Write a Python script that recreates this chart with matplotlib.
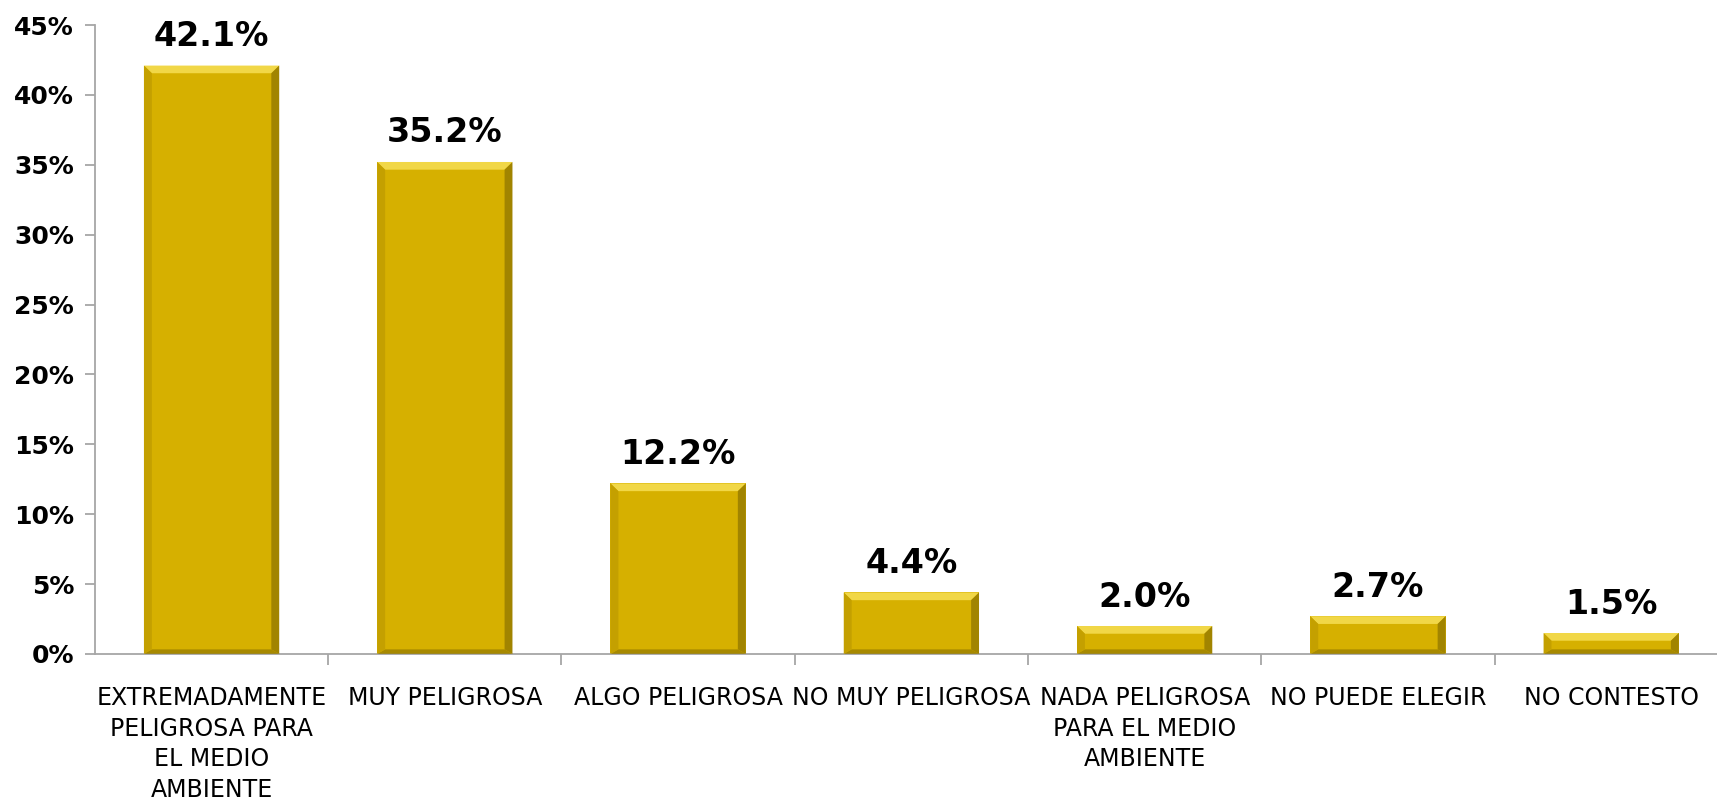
import matplotlib
matplotlib.use("Agg")
import matplotlib.pyplot as plt
from matplotlib.patches import Polygon
from matplotlib.ticker import FixedLocator, FuncFormatter

# Datos de la encuesta
categorias = [
    "EXTREMADAMENTE\nPELIGROSA PARA\nEL MEDIO\nAMBIENTE",
    "MUY PELIGROSA",
    "ALGO PELIGROSA",
    "NO MUY PELIGROSA",
    "NADA PELIGROSA\nPARA EL MEDIO\nAMBIENTE",
    "NO PUEDE ELEGIR",
    "NO CONTESTO",
]
porcentajes = [42.1, 35.2, 12.2, 4.4, 2.0, 2.7, 1.5]
y_ticks = [0, 5, 10, 15, 20, 25, 30, 35, 40, 45]

COLOR_BARRA = "#D6B000"
COLOR_CLARO = "#F3DA4C"
COLOR_OSCURO = "#9C8000"
COLOR_EJE = "#A6A6A6"
ANCHO = 0.58

fig = plt.figure(figsize=(17.17, 7.99), dpi=100)
# el eje x continua un poco mas alla del borde derecho
ax = fig.add_axes([0.0553, 0.1815, 0.951, 0.7872])

x = list(range(len(porcentajes)))
barras = ax.bar(x, porcentajes, width=ANCHO, color=COLOR_BARRA,
                edgecolor="none", zorder=2)

ax.set_xlim(-0.5, len(porcentajes) - 0.5)
ax.set_ylim(0, 45)

# Efecto de bisel en cada barra (bordes claros arriba, oscuros abajo/derecha)
bx = 0.034  # ancho del bisel en unidades de x
by = 0.55   # alto del bisel en unidades de y
for b in barras:
    x0, w, h = b.get_x(), b.get_width(), b.get_height()
    x1 = x0 + w
    byh = min(by, h / 2.5)
    caras = [
        ([(x0, h), (x1, h), (x1 - bx, h - byh), (x0 + bx, h - byh)], COLOR_CLARO, 0.95),
        ([(x0, 0), (x1, 0), (x1 - bx, byh * 0.6), (x0 + bx, byh * 0.6)], COLOR_OSCURO, 0.8),
        ([(x0, 0), (x0, h), (x0 + bx, h - byh), (x0 + bx, byh * 0.6)], "#C29F00", 0.9),
        ([(x1, 0), (x1, h), (x1 - bx, h - byh), (x1 - bx, byh * 0.6)], COLOR_OSCURO, 0.9),
    ]
    for pts, col, alpha in caras:
        ax.add_patch(Polygon(pts, closed=True, facecolor=col, edgecolor="none",
                             alpha=alpha, zorder=3))

# Etiquetas de valor sobre las barras
for xi, v in zip(x, porcentajes):
    ax.annotate(f"{v:.1f}%", (xi, v), xytext=(0, 9), textcoords="offset points",
                ha="center", va="bottom", fontsize=24, fontweight="bold",
                color="black", family="DejaVu Sans")

# Ejes
for lado in ["top", "right"]:
    ax.spines[lado].set_visible(False)
ax.spines["left"].set_color(COLOR_EJE)
ax.spines["bottom"].set_color(COLOR_EJE)
ax.spines["left"].set_linewidth(1.3)
ax.spines["bottom"].set_linewidth(1.3)

ax.set_yticks(y_ticks)
ax.yaxis.set_major_formatter(FuncFormatter(lambda v, p: f"{v:.0f}%"))
ax.tick_params(axis="y", length=7, width=1.3, color=COLOR_EJE, pad=8)
for lbl in ax.get_yticklabels():
    lbl.set_fontsize(18)
    lbl.set_fontweight("bold")
    lbl.set_family("DejaVu Sans")

ax.set_xticks(x)
ax.set_xticklabels(categorias, fontsize=17,
                   family=["DejaVu Sans Condensed", "Liberation Sans Narrow", "DejaVu Sans"],
                   linespacing=1.35, va="top")
ax.tick_params(axis="x", which="major", length=0, pad=23)
ax.xaxis.set_minor_locator(FixedLocator([i + 0.5 for i in x]))
ax.tick_params(axis="x", which="minor", length=8, width=1.3, color=COLOR_EJE)

fig.savefig("out.png", dpi=100)
